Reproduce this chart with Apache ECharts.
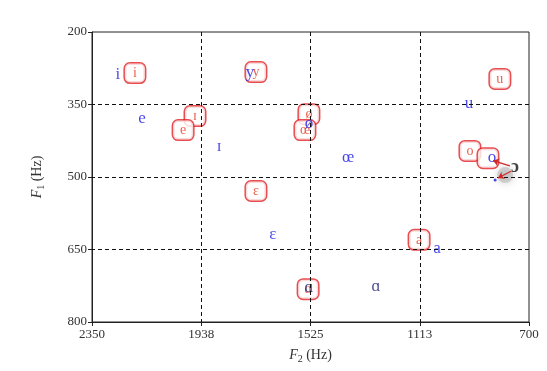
<!DOCTYPE html>
<html><head><meta charset="utf-8">
<script src="https://cdn.jsdelivr.net/npm/echarts@6/dist/echarts.min.js"></script>
<style>html,body{margin:0;padding:0;background:#fff}#c{width:547px;height:371px}</style>
</head><body><div id="c"></div>
<script>
// Axis ticks
const f2Ticks = [700, 1112.5, 1525, 1937.5, 2350];
const f1Ticks = [200, 350, 500, 650, 800];
const f2Grid = [1112.5, 1525, 1937.5];
const f1Grid = [350, 500, 650];

// Reference vowels (red boxed)
const refVowels = ['i', 'y', 'ɪ', 'e', 'ø', 'œ', 'ɛ', 'a', 'ɑ', 'u', 'o', ''];
const refF2 = [2188, 1731, 1961, 2006, 1531, 1546, 1731, 1115, 1534, 810, 923, 855];
const refF1 = [285, 283, 374, 403, 370, 403, 529, 630, 732, 297, 446, 461];

// Speaker vowels (blue)
const spkVowels = ['i', 'e', 'y', 'ɪ', 'ø', 'œ', 'ɛ', 'a', 'ɑ', 'ɑ', 'u', 'o'];
const spkF2 = [2252, 2161, 1753, 1870, 1531, 1383, 1667, 1047, 1531, 1278, 927, 840];
const spkF1 = [289, 380, 283, 436, 390, 459, 620, 649, 728, 726, 347, 459];

// Extra (black) vowel and arrows
const extraVowel = ['ɔ'];
const extraF2 = [753];
const extraF1 = [479];
const arrowFromF2 = [772, 768];
const arrowFromF1 = [477, 488];
const arrowToF2 = [836, 817];
const arrowToF1 = [466, 502];
const dotF2 = [828];
const dotF1 = [506];

const serif = "'Liberation Serif','DejaVu Serif',serif";

const chart = echarts.init(document.getElementById('c'));
chart.setOption({
  animation: false,
  backgroundColor: '#fff',
  grid: { left: 92, right: 18, top: 32, bottom: 49, show: true, borderColor: '#222', borderWidth: 1, backgroundColor: 'transparent' },
  xAxis: {
    type: 'value', min: 700, max: 2350, inverse: true,
    axisLine: { show: true, onZero: false, lineStyle: { color: '#222', width: 1 } },
    axisTick: { show: true, inside: false, length: 4, customValues: f2Ticks, lineStyle: { color: '#222' } },
    axisLabel: { customValues: f2Ticks, formatter: v => String(Math.round(v)), color: '#333', fontSize: 13, fontFamily: serif, margin: 6 },
    splitLine: { show: false },
    name: '{f|F}{s|2}{t| (Hz)}', nameLocation: 'middle', nameGap: 24,
    nameTextStyle: { color: '#333', fontFamily: serif, fontSize: 14,
      rich: { f: { fontStyle: 'italic', fontSize: 14, fontFamily: serif, color: '#333' },
              s: { fontSize: 10, fontFamily: serif, color: '#333', padding: [8, 0, 0, 0] },
              t: { fontSize: 14, fontFamily: serif, color: '#333' } } }
  },
  yAxis: {
    type: 'value', min: 200, max: 800, inverse: true,
    axisLine: { show: true, onZero: false, lineStyle: { color: '#222', width: 1 } },
    axisTick: { show: true, inside: false, length: 4, customValues: f1Ticks, lineStyle: { color: '#222' } },
    axisLabel: { customValues: f1Ticks, color: '#333', fontSize: 13, fontFamily: serif, margin: 5 },
    splitLine: { show: false },
    name: '{f|F}{s|1}{t| (Hz)}', nameLocation: 'middle', nameGap: 46, nameRotate: 90,
    nameTextStyle: { color: '#333', fontFamily: serif, fontSize: 14,
      rich: { f: { fontStyle: 'italic', fontSize: 14, fontFamily: serif, color: '#333' },
              s: { fontSize: 10, fontFamily: serif, color: '#333', padding: [8, 0, 0, 0] },
              t: { fontSize: 14, fontFamily: serif, color: '#333' } } }
  },
  series: [
    {
      type: 'scatter', symbolSize: 0, silent: true, z: 1,
      data: [],
      markLine: {
        silent: true, symbol: 'none', label: { show: false },
        lineStyle: { color: '#111', type: [4, 3], width: 1 },
        data: f2Grid.map(v => ({ xAxis: v })).concat(f1Grid.map(v => ({ yAxis: v })))
      }
    },
    {
      type: 'scatter', symbolSize: 16, z: 2,
      itemStyle: { color: '#999', opacity: 0.35, shadowBlur: 8, shadowColor: 'rgba(0,0,0,0.5)' },
      data: [[790, 496]]
    },
    {
      type: 'scatter', symbol: 'circle', symbolSize: 1, z: 3,
      itemStyle: { color: 'transparent' },
      label: {
        show: true, position: 'inside', formatter: p => p.data.name,
        color: '#e8361c', fontSize: 14, fontFamily: serif,
        borderColor: '#e02226', borderWidth: 1.5, borderRadius: 5, backgroundColor: '#fff',
        width: 14, height: 15, lineHeight: 15, align: 'center', padding: [2, 3]
      },
      data: refVowels.map((n, i) => ({ name: n, value: [refF2[i], refF1[i]] }))
    },
    {
      type: 'scatter', symbol: 'circle', symbolSize: 1, z: 4,
      itemStyle: { color: 'transparent' },
      label: {
        show: true, position: 'inside', formatter: p => p.data.name,
        color: '#1a1ae6', fontSize: 17, fontFamily: serif
      },
      data: spkVowels.map((n, i) => ({ name: n, value: [spkF2[i], spkF1[i]],
        label: n === 'ɑ' ? { color: '#1c1c70' } : undefined }))
    },
    {
      type: 'scatter', symbol: 'circle', symbolSize: 1, z: 4,
      itemStyle: { color: 'transparent' },
      label: {
        show: true, position: 'inside', formatter: p => p.data.name,
        color: '#111', fontSize: 18, fontFamily: serif, fontWeight: 'bold'
      },
      data: extraVowel.map((n, i) => ({ name: n, value: [extraF2[i], extraF1[i]] }))
    },
    {
      type: 'lines', coordinateSystem: 'cartesian2d', z: 5,
      symbol: ['none', 'arrow'], symbolSize: 6,
      lineStyle: { color: '#d02828', width: 1.2, opacity: 1 },
      data: arrowFromF2.map((v, i) => ({ coords: [[v, arrowFromF1[i]], [arrowToF2[i], arrowToF1[i]]] }))
    },
    {
      type: 'scatter', symbolSize: 3, z: 6,
      itemStyle: { color: '#1a1ae6' },
      data: dotF2.map((v, i) => [v, dotF1[i]])
    }
  ]
});
</script></body></html>
